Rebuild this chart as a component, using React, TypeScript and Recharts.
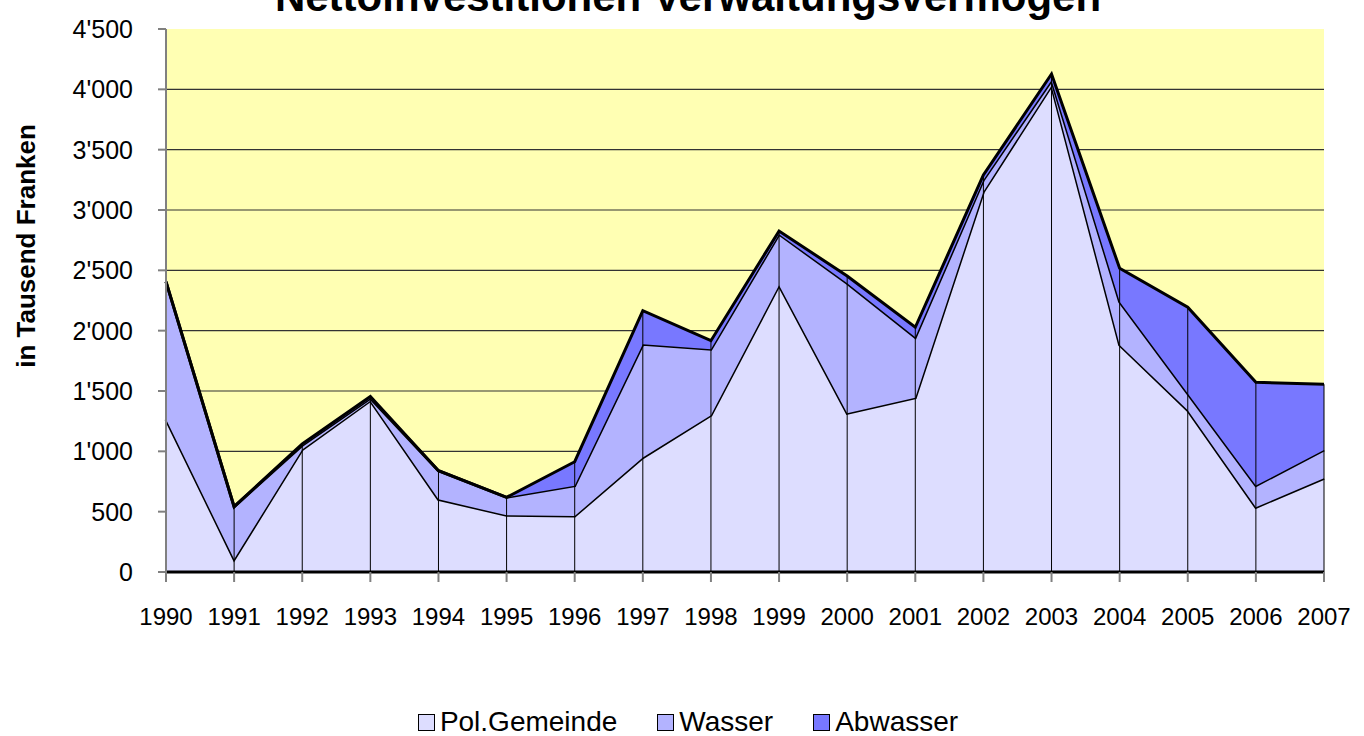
import {
  Area,
  AreaChart,
  CartesianGrid,
  ReferenceLine,
  XAxis,
  YAxis,
} from "recharts";

const years = [
  "1990", "1991", "1992", "1993", "1994", "1995", "1996", "1997", "1998",
  "1999", "2000", "2001", "2002", "2003", "2004", "2005", "2006", "2007",
];

// values in thousand francs
const polGemeinde = [
  1265, 105, 1015, 1420, 602, 470, 464, 948, 1299,
  2377, 1315, 1444, 3152, 4030, 1882, 1340, 536, 776,
];
const wasser = [
  1141, 436, 35, 20, 237, 149, 251, 939, 548,
  423, 1077, 501, 97, 45, 358, 139, 180, 235,
];
const abwasser = [
  0, 0, 12, 14, 0, 0, 199, 279, 70,
  26, 61, 83, 41, 52, 277, 715, 856, 545,
];

const yTicks = [0, 500, 1000, 1500, 2000, 2500, 3000, 3500, 4000, 4500];
const gridValues = [500, 1000, 1500, 2000, 2500, 3000, 3500, 4000];

const series = [
  { key: "pol", name: "Pol.Gemeinde", color: "#DDDDFF" },
  { key: "wasser", name: "Wasser", color: "#B3B3FF" },
  { key: "abwasser", name: "Abwasser", color: "#7878FF" },
];

const data = years.map((year, i) => ({
  year,
  pol: polGemeinde[i],
  wasser: wasser[i],
  abwasser: abwasser[i],
}));

const totals = years.map((_, i) => polGemeinde[i] + wasser[i] + abwasser[i]);

const FONT = '"Liberation Sans", Arial, sans-serif';

function formatThousands(v: number) {
  if (v < 1000) return String(v);
  return `${Math.floor(v / 1000)}'${String(v % 1000).padStart(3, "0")}`;
}

export default function App() {
  return (
    <div
      style={{
        position: "absolute",
        left: 0,
        top: 0,
        width: 1364,
        height: 736,
        background: "#fff",
        fontFamily: FONT,
        overflow: "hidden",
      }}
    >
      <AreaChart
        width={1364}
        height={736}
        data={data}
        margin={{ top: 29, right: 40, left: 66, bottom: 104 }}
      >
        <CartesianGrid
          vertical={false}
          horizontalValues={gridValues}
          stroke="#333"
          strokeWidth={1.2}
          fill="#FFFFB3"
          fillOpacity={1}
        />
        <XAxis
          dataKey="year"
          interval={0}
          height={60}
          tickSize={10}
          tickMargin={26}
          tick={{ fontSize: 24, fill: "#000", fontFamily: FONT }}
          tickLine={{ stroke: "#808080", strokeWidth: 2 }}
          axisLine={{ stroke: "#000", strokeWidth: 3 }}
        />
        <YAxis
          domain={[0, 4500]}
          ticks={yTicks}
          width={100}
          tickSize={8}
          tickMargin={25}
          tickFormatter={formatThousands}
          tick={{ fontSize: 25, fill: "#000", fontFamily: FONT }}
          tickLine={{ stroke: "#808080", strokeWidth: 2 }}
          axisLine={{ stroke: "#808080", strokeWidth: 2 }}
          allowDataOverflow
        />
        {series.map((s) => (
          <Area
            key={s.key}
            type="linear"
            dataKey={s.key}
            name={s.name}
            stackId="1"
            stroke="#000"
            strokeWidth={3}
            fill={s.color}
            fillOpacity={1}
            dot={false}
            activeDot={false}
            isAnimationActive={false}
          />
        ))}
        {years.map((year, i) => (
          <ReferenceLine
            key={year}
            segment={[
              { x: year, y: 0 },
              { x: year, y: totals[i] },
            ]}
            stroke="#000"
            strokeWidth={1}
          />
        ))}
      </AreaChart>

      <svg
        width={1364}
        height={736}
        style={{ position: "absolute", left: 0, top: 0, pointerEvents: "none" }}
      >
        <text
          x={688}
          y={11}
          textAnchor="middle"
          fontSize={42}
          fontWeight="bold"
          fontFamily={FONT}
        >
          Nettoinvestitionen Verwaltungsvermögen
        </text>
        <text
          transform="translate(35,246) rotate(-90)"
          textAnchor="middle"
          fontSize={26}
          fontWeight="bold"
          fontFamily={FONT}
        >
          in Tausend Franken
        </text>
      </svg>

      <div
        style={{
          position: "absolute",
          left: 0,
          top: 706,
          width: 1376,
          display: "flex",
          justifyContent: "center",
          gap: 40,
          fontSize: 28,
          lineHeight: "32px",
        }}
      >
        {series.map((s) => (
          <div key={s.key} style={{ display: "flex", alignItems: "center" }}>
            <span
              style={{
                display: "inline-block",
                width: 15,
                height: 15,
                background: s.color,
                border: "1.5px solid #000",
                marginRight: 5,
              }}
            />
            <span>{s.name}</span>
          </div>
        ))}
      </div>
    </div>
  );
}
